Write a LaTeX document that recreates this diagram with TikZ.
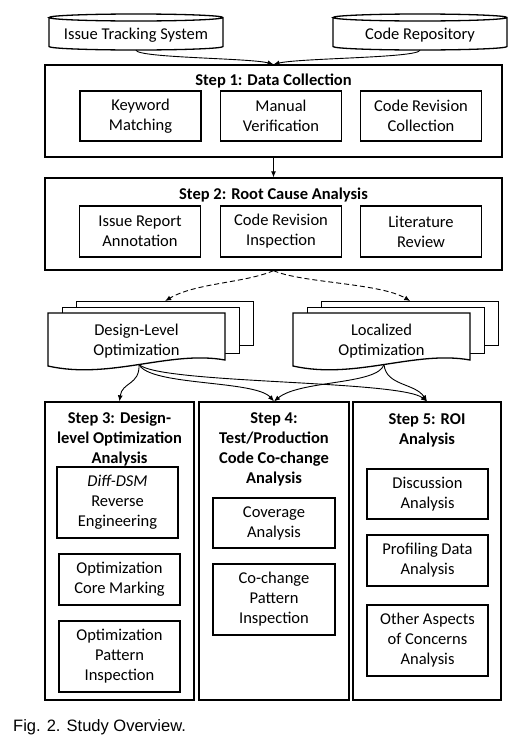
\documentclass[tikz,border=0pt]{standalone}
\usepackage{fontspec}
\setmainfont{Carlito}
\newfontfamily\capfont{Liberation Sans}
\usetikzlibrary{arrows.meta}
\begin{document}
\begin{tikzpicture}[x=1pt,y=-1pt,
  every node/.style={font=\fontsize{16.5}{20}\selectfont, align=center, inner sep=0pt},
  box/.style={draw, line width=1.3pt, fill=white},
  inbox/.style={box, minimum width=121},
  page/.style={draw, line width=1.3pt, fill=white, anchor=north west, minimum width=177},
  link/.style={line width=0.9pt, -{Latex[length=6pt,width=5pt]}},
  dlink/.style={link, dashed, dash pattern=on 5pt off 3pt},
  ttl/.style={font=\fontsize{16.5}{20}\selectfont\bfseries}]
\useasboundingbox[fill=white] (0,0) rectangle (525,742);

% cylinders
\draw[box] (49,17.5) -- (49,46.5) arc[start angle=180,end angle=360,x radius=87pt,y radius=3.5pt] -- (223,17.5) arc[start angle=0,end angle=360,x radius=87pt,y radius=3.5pt];
\node[minimum width=174, minimum height=30] (c1) at (136,35) {Issue Tracking System};
\draw[box] (333,17.5) -- (333,46.5) arc[start angle=180,end angle=360,x radius=87pt,y radius=3.5pt] -- (507,17.5) arc[start angle=0,end angle=360,x radius=87pt,y radius=3.5pt];
\node[minimum width=174, minimum height=30] (c2) at (420,35) {Code Repository};

% step 1
\node[box, minimum width=457, minimum height=92] (s1) at (273.5,111) {};
\node[ttl] (s1t) at (273.5,81) {Step 1: Data Collection};
\node[inbox, minimum height=50] (k1) at (140.5,116) {Keyword\\Matching};
\node[inbox, minimum height=50] (k2) at (281,116) {Manual\\Verification};
\node[inbox, minimum height=50] (k3) at (421,116) {Code Revision\\Collection};

% step 2
\node[box, minimum width=457, minimum height=92] (s2) at (273.5,224) {};
\node[ttl] (s2t) at (273.5,195) {Step 2: Root Cause Analysis};
\node[inbox, minimum height=51] (r1) at (140,231.5) {Issue Report\\Annotation};
\node[inbox, minimum height=51] (r2) at (281,231.5) {Code Revision\\Inspection};
\node[inbox, minimum height=51] (r3) at (421,231.5) {Literature\\Review};

% multi documents
\begin{scope}[xshift=48pt]
\node[page, minimum height=44] (dlb) at (28,301) {};
\node[page, minimum height=46] (dlm) at (14,307) {};
\draw[box] (0,313) -- (177,313) -- (177,360) .. controls (122,350) and (62,380) .. (0,366) -- cycle;
\node (dl) at (88.5,341) {Design-Level\\Optimization};
\coordinate (dlo) at (91,364.5);
\end{scope}
\begin{scope}[xshift=293pt]
\node[page, minimum height=44] (lob) at (28,301) {};
\node[page, minimum height=46] (lom) at (14,307) {};
\draw[box] (0,313) -- (177,313) -- (177,360) .. controls (122,350) and (62,380) .. (0,366) -- cycle;
\node (lo) at (88.5,341) {Localized\\Optimization};
\coordinate (loo) at (91,364.5);
\end{scope}

% steps 3-5
\node[box, minimum width=149, minimum height=298] (s3) at (119.5,551) {};
\node[ttl] (s3t) at (119.5,439) {Step 3: Design-\\level Optimization\\Analysis};
\node[inbox, minimum height=71] (d1) at (117.5,502.5) {\textit{Diff-DSM}\\Reverse\\Engineering};
\node[inbox, minimum height=51] (d2) at (119.5,579.5) {Optimization\\Core Marking};
\node[inbox, minimum height=71] (d3) at (119.5,656.5) {Optimization\\Pattern\\Inspection};

\node[box, minimum width=150, minimum height=298] (s4) at (274,551) {};
\node[ttl] (s4t) at (274,449) {Step 4:\\Test/Production\\Code Co-change\\Analysis};
\node[box, minimum width=122, minimum height=50] (t1) at (274,523) {Coverage\\Analysis};
\node[box, minimum width=122, minimum height=71] (t2) at (274,599.5) {Co-change\\Pattern\\Inspection};

\node[box, minimum width=148, minimum height=298] (s5) at (427,551) {};
\node[ttl] (s5t) at (427,430) {Step 5: ROI\\Analysis};
\node[inbox, minimum height=50] (o1) at (427.5,494) {Discussion\\Analysis};
\node[inbox, minimum height=51] (o2) at (427.5,560.5) {Profiling Data\\Analysis};
\node[inbox, minimum height=71] (o3) at (427.5,640.5) {Other Aspects\\of Concerns\\Analysis};

% connectors
\draw[link] (c1.south) .. controls (138,58) and (250,58) .. (s1.north);
\draw[link] (c2.south) .. controls (418,58) and (300,58) .. (s1.north);
\draw[link] (s1.south) -- (s2.north);
\draw[dlink] (s2.south) .. controls (245,283) and (195,283) .. (dlb.north);
\draw[dlink] (s2.south) .. controls (302,283) and (380,283) .. (lob.north);
\draw[link] (dlo) .. controls (140,385) and (122,382) .. (s3.north);
\draw[link] (dlo) .. controls (150,386) and (255,380) .. (s4.north);
\draw[link] (dlo) .. controls (160,384) and (400,380) .. (s5.north);
\draw[link] (loo) .. controls (378,385) and (300,380) .. (s4.north);
\draw[link] (loo) .. controls (386,386) and (415,383) .. (s5.north);

% caption
\node[font={\capfont\fontsize{16.5}{20}\selectfont}, anchor=west] (cap) at (13,727) {Fig. 2. Study Overview.};
\end{tikzpicture}
\end{document}
